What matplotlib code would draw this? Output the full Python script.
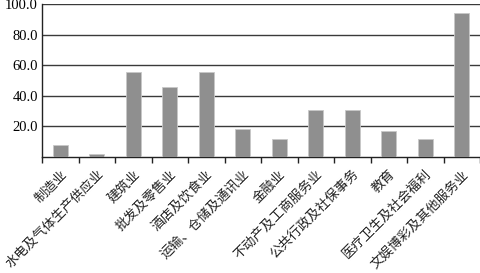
import matplotlib
matplotlib.use("Agg")
import matplotlib.pyplot as plt
import numpy as np

categories = ["制造业", "水电及气体生产供应业", "建筑业", "批发及零售业", "酒店及饮食业",
              "运输、仓储及通讯业", "金融业", "不动产及工商服务业", "公共行政及社保事务",
              "教育", "医疗卫生及社会福利", "文娱博彩及其他服务业"]
values = [7.4, 1.5, 55.5, 45.4, 55.2, 17.9, 11.4, 30.3, 30.3, 16.8, 11.5, 94.3]
yticks = [20, 40, 60, 80, 100]

plt.rcParams['font.family'] = ['Noto Sans CJK SC', 'DejaVu Sans']

fig = plt.figure(figsize=(4.8, 2.73), dpi=100)
ax = fig.add_axes([0.0875, 0.426, 0.9125, 0.559])

x = np.arange(len(categories))
ax.bar(x, values, width=0.42, color='#8f8f8f', edgecolor='#c8c8c8', linewidth=0.6, zorder=3)

ax.set_xlim(-0.5, len(categories) - 0.5)
ax.set_ylim(0, 100)
ax.set_yticks(yticks)
ax.set_yticklabels([f"{v:.1f}" for v in yticks], family='Liberation Serif', fontsize=10.5)
ax.tick_params(axis='y', length=0, pad=3)
ax.yaxis.grid(True, color='#3a3a3a', linewidth=1.0, zorder=1)

ax.set_xticks(np.arange(len(categories) + 1) - 0.5, minor=False)
ax.set_xticklabels([])
ax.tick_params(axis='x', which='major', length=4, direction='out', color='#222222', width=1)
ax.set_xticks(x, minor=True)
ax.set_xticklabels(categories, minor=True, rotation=45, ha='right', va='top',
                   rotation_mode='anchor', fontsize=9.5, color='#222222')
ax.tick_params(axis='x', which='minor', length=0, pad=8)

for s in ['top', 'right']:
    ax.spines[s].set_visible(False)
ax.spines['left'].set_color('#222222')
ax.spines['bottom'].set_color('#222222')
ax.spines['left'].set_linewidth(1)
ax.spines['bottom'].set_linewidth(1)

fig.savefig("out.png", dpi=100)
